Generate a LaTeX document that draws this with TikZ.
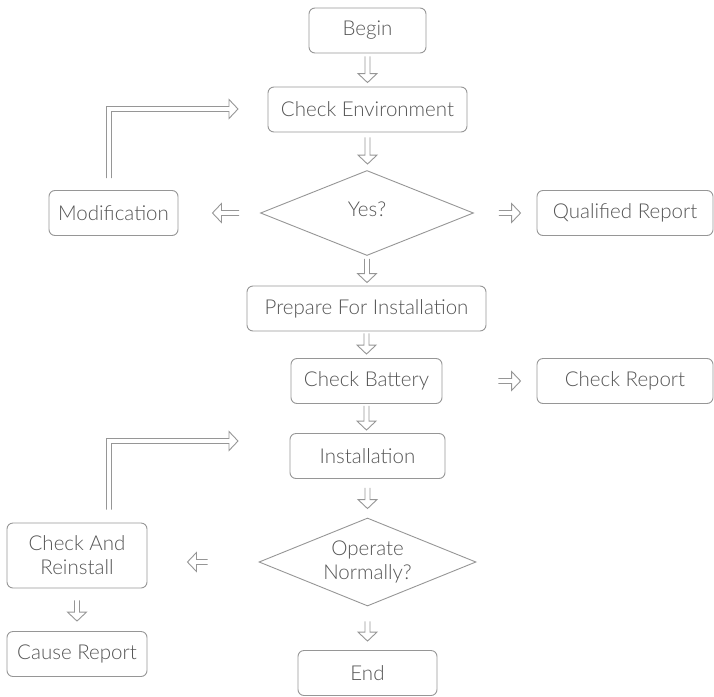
\documentclass[tikz,border=0pt]{standalone}
\usepackage{fontspec}
\setmainfont{Lato}[UprightFont={* Light}]
\usetikzlibrary{calc, shapes.geometric, positioning}
\definecolor{linegray}{HTML}{969696}
\definecolor{textgray}{HTML}{555555}
\tikzset{
  txt/.style={text=textgray, align=center, font=\fontsize{20.5}{24}\selectfont},
  box/.style={txt, draw=linegray, line width=0.9pt, rounded corners=6pt, minimum height=45pt, inner sep=2pt},
  choice/.style={draw=linegray, line width=0.9pt, diamond, inner sep=0pt},
  arr/.style={draw=linegray, line width=0.9pt, line join=miter},
  hollow/.style={arr, to path={let \p1=($(\tikztotarget)-(\tikztostart)$), \n1={veclen(\x1,\y1)}, \n2={atan2(\y1,\x1)} in
    {[shift={(\tikztostart)}, rotate=\n2] (0pt,2.5pt) -- (\n1-9pt,2.5pt) -- (\n1-9pt,9.5pt) -- (\n1,0pt)
      -- (\n1-9pt,-9.5pt) -- (\n1-9pt,-2.5pt) -- (0pt,-2.5pt)}}},
  hollowloop/.style={arr, to path={let \p1=(\tikztostart), \p2=(\tikztotarget) in
    (\x1-2.5pt,\y1) -- (\x1-2.5pt,\y2+2.5pt) -- (\x2-9pt,\y2+2.5pt) -- (\x2-9pt,\y2+9.5pt) -- (\x2,\y2)
    -- (\x2-9pt,\y2-9.5pt) -- (\x2-9pt,\y2-2.5pt) -- (\x1+2.5pt,\y2-2.5pt) -- (\x1+2.5pt,\y1)}}
}
\begin{document}
\begin{tikzpicture}[x=1pt, y=-1pt]
\useasboundingbox (0,0) rectangle (714,696);

% main column
\node[box, minimum width=117pt] (begin) at (367.5,30.5) {Begin};
\node[box, minimum width=199pt] (env) at (367.5,109.5) {Check Environment};
\node[choice, minimum width=213pt, minimum height=85pt,
  label={[txt, yshift=4pt]center:Yes?}] (yes) at (367,213) {};
\node[box, minimum width=239pt] (prep) at (366.5,308.5) {Prepare For Installation};
\node[box, minimum width=151pt] (bat) at (366.5,381) {Check Battery};
\node[box, minimum width=155pt] (inst) at (367.5,456) {Installation};
\node[choice, minimum width=217pt, minimum height=88pt,
  label={[txt]center:{Operate\\Normally?}}] (op) at (367.5,562) {};
\node[box, minimum width=139pt] (end) at (367.5,673) {End};

% side boxes
\node[box, minimum width=129pt] (mod) at (113.5,213) {Modification};
\node[box, minimum width=176pt] (qual) at (625,213) {Qualified Report};
\node[box, minimum width=176pt] (crep) at (625,381) {Check Report};
\node[box, minimum width=140pt, minimum height=65pt] (reins) at (77,555.5) {Check And\\Reinstall};
\node[box, minimum width=140pt] (cause) at (77,654) {Cause Report};

\coordinate (back1) at (238,109);
\coordinate (back2) at (238,441);
\coordinate (reinsin) at (reins.east |- op.west);

% down arrows
\foreach \a/\b/\s/\t in {begin/env/3/4, env/yes/5/6, yes/prep/3/3, prep/bat/2/4,
  bat/inst/2/3, inst/op/9/9, op/end/15/9, reins/cause/12/10}
{
    \draw[hollow] ([yshift=-\s pt]\a.south) to ([yshift=\t pt]\a.south |- \b.north);
}

% side arrows
\draw[hollow] ([xshift=-21pt]yes.west) to ([xshift=34pt]mod.east);
\draw[hollow] ([xshift=25pt]yes.east) to ([xshift=-16pt]qual.west);
\draw[hollow] ([xshift=56pt]bat.east) to ([xshift=-16pt]crep.west);
\draw[hollow] ([xshift=-51pt]op.west) to ([xshift=40pt]reinsin);

% back loops
\draw[hollowloop] ([xshift=-4.5pt, yshift=12pt]mod.north) to (back1);
\draw[hollowloop] ([xshift=32pt, yshift=13pt]reins.north) to (back2);

\end{tikzpicture}
\end{document}
